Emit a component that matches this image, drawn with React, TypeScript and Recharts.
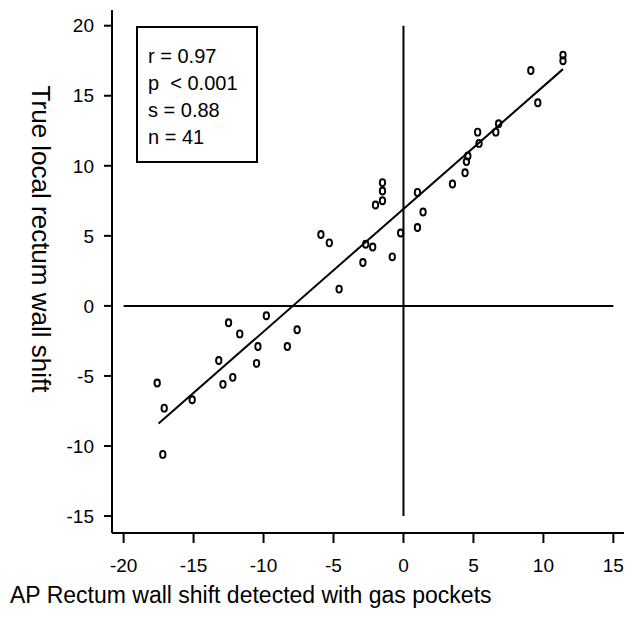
import React from 'react';
import { ScatterChart, Scatter, XAxis, YAxis, ReferenceLine } from 'recharts';

// observed points: AP shift (gas pockets) vs true local rectum wall shift
const apShift = [
  -17.6, -17.1, -15.1, -13.2, -12.9, -12.2, -12.5, -11.7, -10.5, -10.4, -9.8, -8.3, -7.6, -17.2,
  -5.9, -5.3, -4.6, -2.9, -2.7, -2.2, -2.0, -1.5, -1.5, -1.5, -0.8, -0.2, 1.0, 1.4, 1.0, 3.5,
  4.4, 4.5, 4.6, 5.4, 5.3, 6.6, 6.8, 9.1, 9.6, 11.4, 11.4,
];
const trueShift = [
  -5.5, -7.3, -6.7, -3.9, -5.6, -5.1, -1.2, -2.0, -4.1, -2.9, -0.7, -2.9, -1.7, -10.6,
  5.1, 4.5, 1.2, 3.1, 4.4, 4.2, 7.2, 7.5, 8.2, 8.8, 3.5, 5.2, 8.1, 6.7, 5.6, 8.7,
  9.5, 10.3, 10.7, 11.6, 12.4, 12.4, 13.0, 16.8, 14.5, 17.9, 17.5,
];

// regression line end points
const fitX = [-17.5, 11.4];
const fitY = [-8.4, 16.9];

const xTicks = [-20, -15, -10, -5, 0, 5, 10, 15];
const yTicks = [-15, -10, -5, 0, 5, 10, 15, 20];

const statsLines = ['r = 0.97', 'p  < 0.001', 's = 0.88', 'n = 41'];

const points = apShift.map((x, i) => ({ x, y: trueShift[i] }));
const fit = fitX.map((x, i) => ({ x, y: fitY[i] }));

const font = 'Arial, "Liberation Sans", sans-serif';

const Marker = (props: any) => {
  const { cx, cy } = props;
  return <ellipse cx={cx} cy={cy} rx={2.7} ry={3.5} fill="none" stroke="#000" strokeWidth={1.9} />;
};

const NoDot = () => <g />;

export default function App() {
  const tick = { fill: '#000', fontSize: 19, fontFamily: font };
  return (
    <div style={{ position: 'relative', width: 629, height: 612, fontFamily: font, color: '#000' }}>
      <ScatterChart width={629} height={612} margin={{ top: 2, right: 13, left: 44, bottom: 47 }}>
        <XAxis
          type="number"
          dataKey="x"
          domain={[-20.83, 15.76]}
          ticks={xTicks}
          allowDataOverflow
          height={40}
          tickSize={10}
          tickMargin={16}
          tick={tick}
          axisLine={{ stroke: '#000', strokeWidth: 2 }}
          tickLine={{ stroke: '#000', strokeWidth: 2 }}
        />
        <YAxis
          type="number"
          dataKey="y"
          domain={[-16.21, 21.12]}
          ticks={yTicks}
          allowDataOverflow
          width={60}
          tickSize={8}
          tickMargin={10}
          tick={tick}
          axisLine={{ stroke: '#000', strokeWidth: 2 }}
          tickLine={{ stroke: '#000', strokeWidth: 2 }}
        />
        <ReferenceLine segment={[{ x: -20, y: 0 }, { x: 15, y: 0 }]} stroke="#000" strokeWidth={2} ifOverflow="visible" />
        <ReferenceLine segment={[{ x: 0, y: -15 }, { x: 0, y: 20 }]} stroke="#000" strokeWidth={2} ifOverflow="visible" />
        <Scatter data={fit} line={{ stroke: '#000', strokeWidth: 2 }} shape={NoDot} isAnimationActive={false} />
        <Scatter data={points} shape={Marker} isAnimationActive={false} />
      </ScatterChart>

      <div
        style={{
          position: 'absolute', left: 128, top: 18, width: 122, height: 137,
          boxSizing: 'border-box', border: '2px solid #000', background: '#fff',
          padding: '15px 0 0 10px', fontSize: 20, lineHeight: '27px', whiteSpace: 'pre',
        }}
      >
        {statsLines.map((s) => <div key={s}>{s}</div>)}
      </div>

      <div
        style={{
          position: 'absolute', left: 32, top: 231, transform: 'translate(-50%, -50%) rotate(90deg)',
          fontSize: 26, whiteSpace: 'nowrap',
        }}
      >
        True local rectum wall shift
      </div>

      <div style={{ position: 'absolute', left: 2, top: 574, fontSize: 23, whiteSpace: 'nowrap' }}>
        AP Rectum wall shift detected with gas pockets
      </div>
    </div>
  );
}
